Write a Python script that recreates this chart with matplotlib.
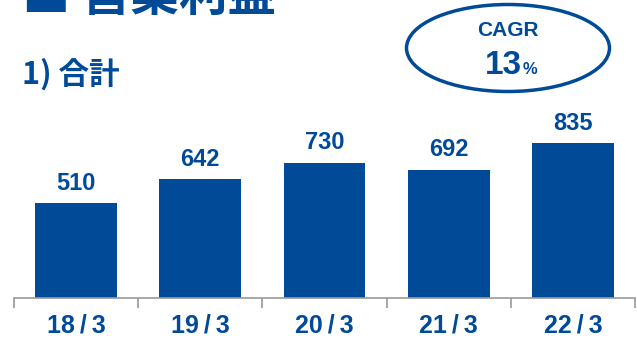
import matplotlib
matplotlib.use("Agg")
import matplotlib.pyplot as plt
from matplotlib.patches import Ellipse

periods = ["18/3", "19/3", "20/3", "21/3", "22/3"]
values = [510, 642, 730, 692, 835]
cagr = "13"

blue = "#004a98"
jp = ["Noto Sans CJK JP", "DejaVu Sans"]
num = ["Liberation Sans", "DejaVu Sans"]

fig = plt.figure(figsize=(6.37, 3.41), dpi=100)
ax = fig.add_axes([14/637, 43/341, 621/637, 198/341])

x = range(len(values))
ax.bar(x, values, width=0.66, color=blue)
for i, v in zip(x, values):
    ax.text(i, v + 45, str(v), ha="center", va="bottom", fontsize=17,
            fontweight="bold", color=blue, family=num)

ax.set_xlim(-0.5, len(values) - 0.5)
ax.set_ylim(0, 1067)
ax.set_yticks([])
for s in ["top", "right", "left"]:
    ax.spines[s].set_visible(False)
ax.spines["bottom"].set_color("#999999")
ax.spines["bottom"].set_linewidth(1.2)
ax.set_xticks([i + 0.5 for i in range(-1, len(values))], minor=False)
ax.set_xticklabels([])
ax.tick_params(axis="x", length=7, color="#999999", width=1.2)
ax.set_xticks(list(x), minor=True)
ax.set_xticklabels([p.replace("/", "\u2009/\u2009") for p in periods], minor=True,
                   fontsize=18, fontweight="bold", color=blue, family=num)
ax.tick_params(axis="x", which="minor", length=0, pad=11)

# headings
fig.text(22/637, 1 - 11/341, "■ 営業利益", fontsize=35, fontweight="bold",
         color=blue, family=jp, va="baseline")
fig.text(22/637, 1 - 84/341, "1) 合計", fontsize=22, fontweight="bold",
         color=blue, family=jp, va="baseline")

# CAGR ellipse
e = Ellipse((508/637, 1 - 48/341), 203/637, 87/341, transform=fig.transFigure,
            fill=False, edgecolor=blue, linewidth=2.5)
fig.add_artist(e)
fig.text(508/637, 1 - 31/341, "CAGR", ha="center", va="center", fontsize=15,
         fontweight="bold", color=blue, family=num)
fig.text(503/637, 1 - 66/341, cagr, ha="center", va="center", fontsize=24,
         fontweight="bold", color=blue, family=num)
fig.text(523/637, 1 - 70/341, "%", ha="left", va="center", fontsize=12,
         fontweight="bold", color=blue, family=num)

fig.savefig("out.png", dpi=100)
